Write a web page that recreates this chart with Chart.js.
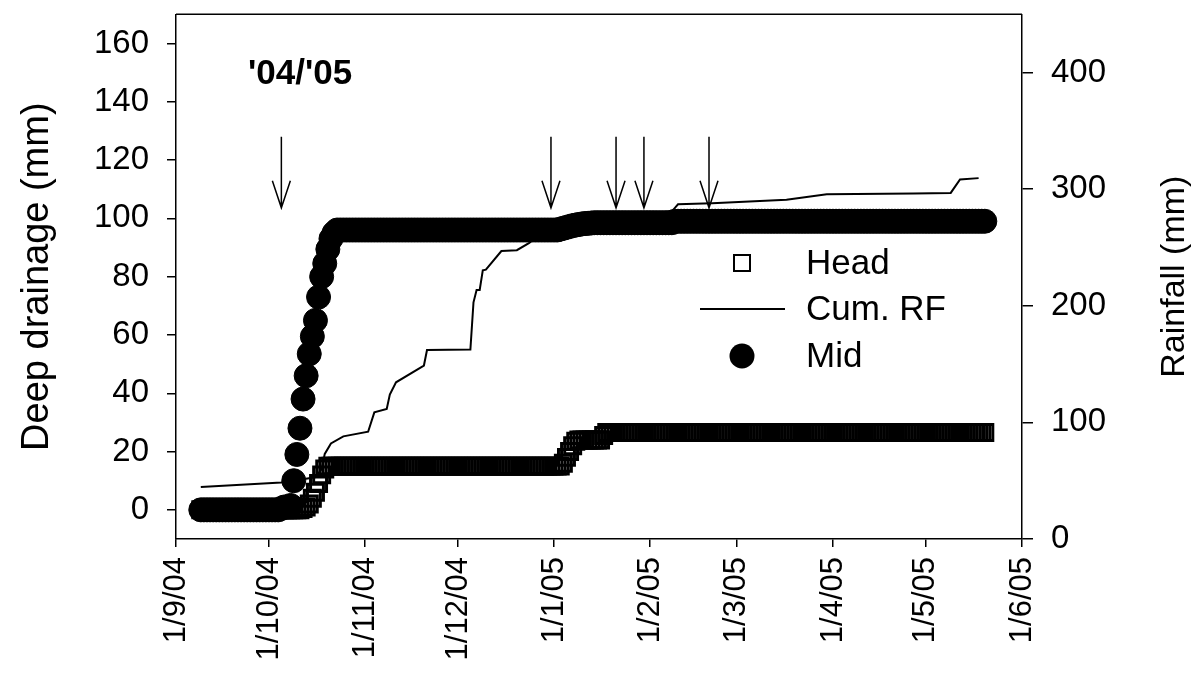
<!DOCTYPE html>
<html>
<head>
<meta charset="utf-8">
<script src="https://cdn.jsdelivr.net/npm/chart.js@4.4.1/dist/chart.umd.min.js"></script>
<style>
  body { margin: 0; background: #fff; }
  #wrap { width: 1200px; height: 676px; }
</style>
</head>
<body>
<div id="wrap"><canvas id="chart" width="1200" height="676"></canvas></div>
<script>
// x axis is in days since 1 Sep 2004
const monthTicks = [0, 30, 61, 91, 122, 153, 181, 212, 242, 273]
const monthLabels = ['1/9/04', '1/10/04', '1/11/04', '1/12/04', '1/1/05', '1/2/05', '1/3/05', '1/4/05', '1/5/05', '1/6/05']
const drainageTicks = [0, 20, 40, 60, 80, 100, 120, 140, 160]
const rainTicks = [0, 100, 200, 300, 400]

// daily deep drainage, Mid (mm), first value is day 8
const midStartDay = 8
const midValues = [
  0, 0, 0, 0, 0, 0, 0, 0, 0, 0, 0, 0, 0,
  0, 0, 0, 0, 0, 0, 0, 0, 0, 0, 0, 0, 0,
  0.5, 1, 1, 1.5, 10, 19, 28, 38, 46, 53.5, 59.5, 65, 73, 80, 84.5, 89.4, 93, 95,
  96, 96, 96, 96, 96, 96, 96, 96, 96, 96, 96, 96,
  96, 96, 96, 96, 96, 96, 96, 96, 96, 96, 96, 96,
  96, 96, 96, 96, 96, 96, 96, 96, 96, 96, 96, 96,
  96, 96, 96, 96, 96, 96, 96, 96, 96, 96, 96, 96,
  96, 96, 96, 96, 96, 96, 96, 96, 96, 96, 96, 96,
  96, 96, 96, 96, 96, 96, 96, 96, 96, 96, 96, 96,
  96.3, 96.6, 96.9, 97.2, 97.5, 97.7, 97.9, 98.1, 98.2, 98.3, 98.4, 98.5,
  98.5, 98.5, 98.5, 98.5, 98.5, 98.5, 98.5, 98.5, 98.5, 98.5, 98.5, 98.5,
  98.5, 98.5, 98.5, 98.5, 98.5, 98.5, 98.5, 98.5, 98.5, 98.5, 98.5, 98.5,
  98.5,
  99, 99, 99, 99, 99, 99, 99, 99, 99, 99, 99, 99,
  99, 99, 99, 99, 99, 99, 99, 99, 99, 99, 99, 99,
  99, 99, 99, 99, 99, 99, 99, 99, 99, 99, 99, 99,
  99, 99, 99, 99, 99, 99, 99, 99, 99, 99, 99, 99,
  99, 99, 99, 99, 99, 99, 99, 99, 99, 99, 99, 99,
  99, 99, 99, 99, 99, 99, 99, 99, 99, 99, 99, 99,
  99, 99, 99, 99, 99, 99, 99, 99, 99, 99, 99, 99,
  99, 99, 99, 99, 99, 99, 99, 99, 99, 99, 99, 99,
  99, 99, 99, 99, 99
]

// daily deep drainage, Head (mm), first value is day 8
const headStartDay = 8
const headValues = [
  0, 0, 0, 0, 0, 0, 0, 0, 0, 0, 0,
  0, 0, 0, 0, 0, 0, 0, 0, 0, 0, 0,
  0, 0, 0, 0, 0, 0, 0, 0, 0, 0, 0,
  0.5, 1, 2, 4, 6, 9, 12, 14,
  15, 15, 15, 15, 15, 15, 15, 15, 15, 15, 15, 15,
  15, 15, 15, 15, 15, 15, 15, 15, 15, 15, 15, 15,
  15, 15, 15, 15, 15, 15, 15, 15, 15, 15, 15, 15,
  15, 15, 15, 15, 15, 15, 15, 15, 15, 15, 15, 15,
  15, 15, 15, 15, 15, 15, 15, 15, 15, 15, 15, 15,
  15, 15, 15, 15, 15, 15, 15, 15, 15, 15, 15, 15,
  15, 15, 15, 15,
  16, 18, 20, 22, 23.5, 24, 24, 24, 24, 24, 24, 24, 24, 25.5,
  26.5, 26.5, 26.5, 26.5, 26.5, 26.5, 26.5, 26.5, 26.5, 26.5, 26.5, 26.5,
  26.5, 26.5, 26.5, 26.5, 26.5, 26.5, 26.5, 26.5, 26.5, 26.5, 26.5, 26.5,
  26.5, 26.5, 26.5, 26.5, 26.5, 26.5, 26.5, 26.5, 26.5, 26.5, 26.5, 26.5,
  26.5, 26.5, 26.5, 26.5, 26.5, 26.5, 26.5, 26.5, 26.5, 26.5, 26.5, 26.5,
  26.5, 26.5, 26.5, 26.5, 26.5, 26.5, 26.5, 26.5, 26.5, 26.5, 26.5, 26.5,
  26.5, 26.5, 26.5, 26.5, 26.5, 26.5, 26.5, 26.5, 26.5, 26.5, 26.5, 26.5,
  26.5, 26.5, 26.5, 26.5, 26.5, 26.5, 26.5, 26.5, 26.5, 26.5, 26.5, 26.5,
  26.5, 26.5, 26.5, 26.5, 26.5, 26.5, 26.5, 26.5, 26.5, 26.5, 26.5, 26.5,
  26.5, 26.5, 26.5, 26.5, 26.5, 26.5, 26.5, 26.5, 26.5, 26.5, 26.5, 26.5,
  26.5, 26.5, 26.5, 26.5, 26.5, 26.5, 26.5, 26.5, 26.5, 26.5, 26.5, 26.5,
  26.5, 26.5, 26.5
]

// cumulative rainfall (mm), right axis
const rfDays = [8, 34, 45, 47, 48, 50, 54, 62, 64, 68, 69, 71, 80, 81, 95, 96, 97, 98, 99, 100, 105, 110, 114, 119, 137, 160, 161, 162, 173, 197, 210, 238, 250, 253, 259]
const rfValues = [44.5, 48.5, 53, 60, 73, 82, 88, 92, 108.6, 111.6, 123.8, 134.4, 148.8, 162, 162.5, 203, 213.6, 213.6, 230.4, 231, 247, 247.7, 254, 265, 275, 281, 284, 287, 288, 291, 295.6, 296.4, 296.8, 308.4, 309.5]

// arrows marking events (days)
const arrowDays = [34, 121, 142, 151, 172]

const fontFamily = "'Liberation Sans', Arial, sans-serif"
Chart.defaults.font.family = fontFamily
Chart.defaults.color = '#000'

const axisLine = { display: true, color: '#000', width: 1.5 }

// stop chart.js reserving room for the end labels
const noPad = (s) => {
  s.paddingTop = 0
  s.paddingBottom = 0
  s.paddingLeft = 0
  s.paddingRight = 0
}

const extras = {
  id: 'extras',
  afterDraw(chart) {
    const { ctx, chartArea: a, scales } = chart
    const x = scales.x
    const y = scales.y
    ctx.save()
    ctx.strokeStyle = '#000'
    ctx.fillStyle = '#000'

    // top frame line
    ctx.lineWidth = 1.5
    ctx.beginPath()
    ctx.moveTo(a.left, a.top)
    ctx.lineTo(a.right, a.top)
    ctx.stroke()

    // arrows
    arrowDays.forEach((d) => {
      const px = x.getPixelForValue(d)
      const top = y.getPixelForValue(128)
      const tip = y.getPixelForValue(103.6)
      ctx.beginPath()
      ctx.moveTo(px, top)
      ctx.lineTo(px, tip)
      ctx.moveTo(px - 9, tip - 27)
      ctx.lineTo(px, tip)
      ctx.lineTo(px + 9, tip - 27)
      ctx.stroke()
    })

    // season label
    ctx.font = 'bold 35px ' + fontFamily
    ctx.textAlign = 'left'
    ctx.textBaseline = 'middle'
    ctx.fillText("'04/'05", 248, 74)

    // legend
    ctx.font = '35px ' + fontFamily
    ctx.lineWidth = 2
    ctx.strokeRect(742 - 8, 263 - 8, 16, 16)
    ctx.fillText('Head', 806, 264)
    ctx.beginPath()
    ctx.moveTo(700, 309)
    ctx.lineTo(785, 309)
    ctx.stroke()
    ctx.fillText('Cum. RF', 806, 310)
    ctx.beginPath()
    ctx.arc(742, 356, 12.5, 0, Math.PI * 2)
    ctx.fill()
    ctx.fillText('Mid', 806, 357)

    // right axis title, reading upwards
    ctx.font = '34px ' + fontFamily
    ctx.translate(1175, (a.top + a.bottom) / 2)
    ctx.rotate(-Math.PI / 2)
    ctx.textAlign = 'center'
    ctx.fillText('Rainfall (mm)', 0, 0)
    ctx.restore()
  }
}

const chart = new Chart(document.getElementById('chart'), {
  type: 'scatter',
  data: {
    datasets: [{
      label: 'Mid',
      data: midValues.map((v, i) => ({ x: midStartDay + i, y: v })),
      yAxisID: 'y',
      pointStyle: 'circle',
      pointRadius: 12,
      backgroundColor: '#000',
      borderColor: '#000',
      borderWidth: 1,
      order: 0
    }, {
      label: 'Head',
      data: headValues.map((v, i) => ({ x: headStartDay + i, y: v })),
      yAxisID: 'y',
      pointStyle: 'rect',
      pointRadius: 11.3,
      backgroundColor: 'rgba(0,0,0,0)',
      borderColor: '#000',
      borderWidth: 3,
      order: 1
    }, {
      label: 'Cum. RF',
      data: rfDays.map((d, i) => ({ x: d, y: rfValues[i] })),
      yAxisID: 'y2',
      showLine: true,
      pointRadius: 0,
      borderColor: '#000',
      borderWidth: 2,
      order: 2
    }]
  },
  options: {
    responsive: false,
    animation: false,
    events: [],
    layout: { padding: { top: 10, left: 0, right: 0, bottom: 0 } },
    plugins: { legend: { display: false }, tooltip: { enabled: false } },
    scales: {
      x: {
        type: 'linear',
        position: 'bottom',
        min: 0,
        max: 273,
        afterBuildTicks: (s) => { s.ticks = monthTicks.map((v) => ({ value: v })) },
        afterFit: (s) => { s.height = 137; noPad(s) },
        grid: { drawOnChartArea: false, tickLength: 8, color: '#000', lineWidth: 1.5 },
        border: axisLine,
        ticks: {
          autoSkip: false,
          minRotation: 90,
          maxRotation: 90,
          padding: 10,
          color: '#000',
          font: { size: 31 },
          callback: (v, i) => monthLabels[i]
        }
      },
      y: {
        position: 'left',
        min: -10,
        max: 170,
        afterBuildTicks: (s) => { s.ticks = drainageTicks.map((v) => ({ value: v })) },
        afterFit: (s) => { s.width = 176; noPad(s) },
        grid: { drawOnChartArea: false, tickLength: 9, color: '#000', lineWidth: 1.5 },
        border: axisLine,
        ticks: { padding: 18, color: '#000', font: { size: 33 } },
        title: { display: true, text: 'Deep drainage (mm)', color: '#000', font: { size: 38 }, padding: { top: 15 } }
      },
      y2: {
        position: 'right',
        min: 0,
        max: 450,
        afterBuildTicks: (s) => { s.ticks = rainTicks.map((v) => ({ value: v })) },
        afterFit: (s) => { s.width = 178; noPad(s) },
        grid: { drawOnChartArea: false, tickLength: 11, color: '#000', lineWidth: 1.5 },
        border: axisLine,
        ticks: { padding: 18, color: '#000', font: { size: 33 } }
      }
    }
  },
  plugins: [extras]
})
</script>
</body>
</html>
